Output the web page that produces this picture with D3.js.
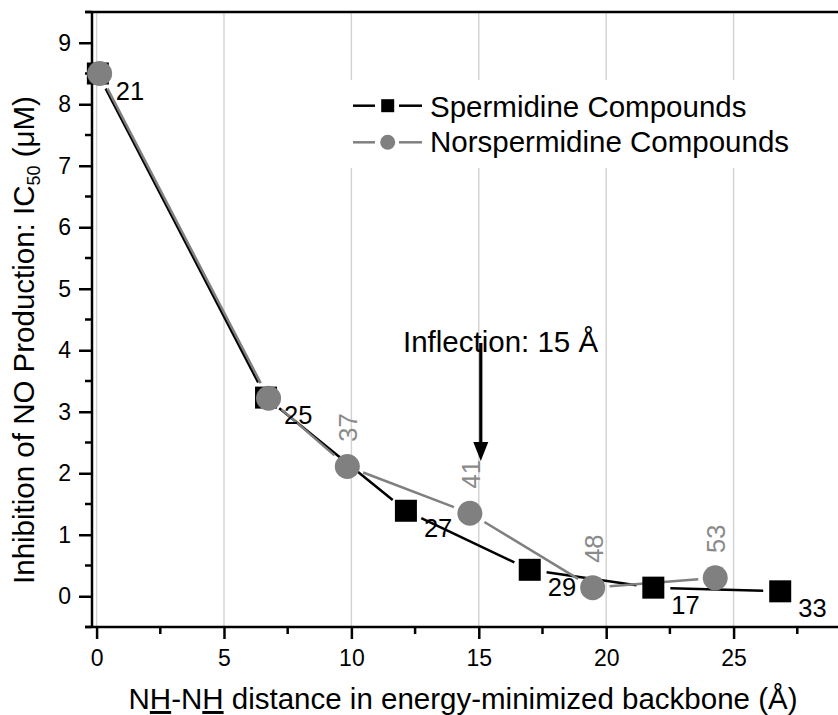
<!DOCTYPE html>
<html>
<head>
<meta charset="utf-8">
<script src="https://cdn.jsdelivr.net/npm/d3@7"></script>
<style>
  html, body { margin: 0; padding: 0; background: #fff; }
  svg { display: block; font-family: "Liberation Sans", Arial, sans-serif; }
</style>
</head>
<body>
<svg id="chart" width="838" height="715"></svg>
<script>
// NH–NH backbone distance (Å) vs. IC50 (µM) for NO production inhibition
const spermidineX = [0.05, 6.65, 12.14, 17.0, 21.85, 26.83];
const spermidineY = [8.5, 3.23, 1.39, 0.43, 0.14, 0.08];
const spermidineLabels = ["21", "25", "27", "29", "17", "33"];

const norspermidineX = [0.12, 6.75, 9.84, 14.65, 19.47, 24.28];
const norspermidineY = [8.5, 3.22, 2.11, 1.35, 0.14, 0.30];
const norspermidineLabels = ["", "", "37", "41", "48", "53"];

const xTicks = [0, 5, 10, 15, 20, 25];
const xMinorTicks = [2.5, 7.5, 12.5, 17.5, 22.5, 27.5];
const yTicks = [0, 1, 2, 3, 4, 5, 6, 7, 8, 9];
const yMinorTicks = [-0.5, 0.5, 1.5, 2.5, 3.5, 4.5, 5.5, 6.5, 7.5, 8.5, 9.5];

const inflectionX = 15;
const seriesNames = ["Spermidine Compounds", "Norspermidine Compounds"];

const svg = d3.select("#chart");
const W = 838, H = 715;
const plotLeft = 92, plotTop = 12, plotBottom = 627;

const x = d3.scaleLinear().domain([-0.18, 29.5]).range([plotLeft, plotLeft + 29.68 * 25.48]);
const y = d3.scaleLinear().domain([-0.5, 9.5]).range([plotBottom, plotTop]);

const BLACK = "#000", GRAY = "#808080", LABEL_GRAY = "#8a8a8a";

// vertical grid lines
svg.append("g").selectAll("line").data(xTicks).join("line")
  .attr("x1", d => x(d)).attr("x2", d => x(d))
  .attr("y1", plotTop).attr("y2", plotBottom)
  .attr("stroke", "#d2d2d2").attr("stroke-width", 1.4);

// legend background masks the grid
svg.append("rect").attr("x", 340).attr("y", 80).attr("width", 470).attr("height", 88).attr("fill", "#fff");

// frame: top edge
svg.append("line").attr("x1", 85).attr("x2", W + 5).attr("y1", plotTop).attr("y2", plotTop)
  .attr("stroke", BLACK).attr("stroke-width", 2.5);

// y axis
const yAxis = svg.append("g").attr("transform", `translate(${plotLeft},0)`)
  .call(d3.axisLeft(y).tickValues(yTicks).tickSize(13).tickPadding(8).tickFormat(d3.format("d")));
yAxis.select(".domain").remove();
yAxis.selectAll(".tick line").attr("stroke-width", 2.5);
yAxis.selectAll(".tick text").attr("font-size", 23).attr("font-family", "Liberation Sans, Arial, sans-serif").attr("fill", BLACK);
svg.append("g").selectAll("line").data(yMinorTicks).join("line")
  .attr("x1", plotLeft - 7).attr("x2", plotLeft).attr("y1", d => y(d)).attr("y2", d => y(d))
  .attr("stroke", BLACK).attr("stroke-width", 2.5);
svg.append("line").attr("x1", plotLeft).attr("x2", plotLeft).attr("y1", plotTop - 1).attr("y2", plotBottom + 1)
  .attr("stroke", BLACK).attr("stroke-width", 2.5);

// x axis
const xAxis = svg.append("g").attr("transform", `translate(0,${plotBottom})`)
  .call(d3.axisBottom(x).tickValues(xTicks).tickSize(12).tickPadding(11).tickFormat(d3.format("d")));
xAxis.select(".domain").remove();
xAxis.selectAll(".tick line").attr("stroke-width", 2.5);
xAxis.selectAll(".tick text").attr("font-size", 23).attr("font-family", "Liberation Sans, Arial, sans-serif").attr("fill", BLACK);
svg.append("g").selectAll("line").data(xMinorTicks).join("line")
  .attr("x1", d => x(d)).attr("x2", d => x(d)).attr("y1", plotBottom).attr("y2", plotBottom + 7)
  .attr("stroke", BLACK).attr("stroke-width", 2.5);
svg.append("line").attr("x1", 85).attr("x2", W + 5).attr("y1", plotBottom).attr("y2", plotBottom)
  .attr("stroke", BLACK).attr("stroke-width", 2.5);

// connecting lines with a gap around each symbol
function gappedSegments(xs, ys, gap) {
  const segs = [];
  for (let i = 0; i < xs.length - 1; i++) {
    const x0 = x(xs[i]), y0 = y(ys[i]), x1 = x(xs[i + 1]), y1 = y(ys[i + 1]);
    const dx = x1 - x0, dy = y1 - y0, len = Math.hypot(dx, dy);
    if (len <= 2 * gap) continue;
    const ux = dx / len, uy = dy / len;
    segs.push([x0 + ux * gap, y0 + uy * gap, x1 - ux * gap, y1 - uy * gap]);
  }
  return segs;
}
svg.append("g").selectAll("line").data(gappedSegments(spermidineX, spermidineY, 17)).join("line")
  .attr("x1", d => d[0]).attr("y1", d => d[1]).attr("x2", d => d[2]).attr("y2", d => d[3])
  .attr("stroke", BLACK).attr("stroke-width", 2.5);
svg.append("g").selectAll("line").data(gappedSegments(norspermidineX, norspermidineY, 17)).join("line")
  .attr("x1", d => d[0]).attr("y1", d => d[1]).attr("x2", d => d[2]).attr("y2", d => d[3])
  .attr("stroke", GRAY).attr("stroke-width", 2.5);

// symbols
const SQ = 22, R = 12.5;
svg.append("g").selectAll("rect").data(d3.range(spermidineX.length)).join("rect")
  .attr("x", i => x(spermidineX[i]) - SQ / 2).attr("y", i => y(spermidineY[i]) - SQ / 2)
  .attr("width", SQ).attr("height", SQ).attr("fill", BLACK);
svg.append("g").selectAll("circle").data(d3.range(norspermidineX.length)).join("circle")
  .attr("cx", i => x(norspermidineX[i])).attr("cy", i => y(norspermidineY[i]))
  .attr("r", R).attr("fill", GRAY);

// point labels
svg.append("g").selectAll("text").data(d3.range(spermidineX.length)).join("text")
  .attr("x", i => x(spermidineX[i]) + 18).attr("y", i => y(spermidineY[i]) + 26)
  .attr("font-size", 25.5).attr("fill", BLACK)
  .text(i => spermidineLabels[i]);
svg.append("g").selectAll("text").data(d3.range(norspermidineX.length).filter(i => norspermidineLabels[i])).join("text")
  .attr("transform", i => `translate(${x(norspermidineX[i]) + 10},${y(norspermidineY[i]) - 39}) rotate(-90)`)
  .attr("text-anchor", "middle").attr("font-size", 25.5).attr("fill", LABEL_GRAY)
  .text(i => norspermidineLabels[i]);

// inflection annotation
svg.append("text").attr("x", 403).attr("y", 352).attr("font-size", 29.5).attr("fill", BLACK)
  .text("Inflection: " + inflectionX + " Å");
const ax = x(inflectionX) + 2;
svg.append("line").attr("x1", ax).attr("x2", ax).attr("y1", 343).attr("y2", 446)
  .attr("stroke", BLACK).attr("stroke-width", 3.2);
svg.append("path").attr("d", `M${ax - 7.5},442 L${ax + 7.5},442 L${ax},461 Z`).attr("fill", BLACK);

// legend
const legend = svg.append("g");
[[BLACK, "square", 105.7, 116.7], [GRAY, "circle", 142.3, 152]].forEach(([c, shape, ly, base], k) => {
  legend.append("line").attr("x1", 353).attr("x2", 375).attr("y1", ly).attr("y2", ly).attr("stroke", c).attr("stroke-width", 2.5);
  legend.append("line").attr("x1", 399).attr("x2", 422).attr("y1", ly).attr("y2", ly).attr("stroke", c).attr("stroke-width", 2.5);
  if (shape === "square") {
    legend.append("rect").attr("x", 387.7 - 6.5).attr("y", ly - 6.5).attr("width", 13).attr("height", 13).attr("fill", c);
  } else {
    legend.append("circle").attr("cx", 387.7).attr("cy", ly).attr("r", 7.5).attr("fill", c);
  }
  legend.append("text").attr("x", 430).attr("y", base).attr("font-size", 29.5).attr("fill", BLACK).text(seriesNames[k]);
});

// x axis title
const xt = svg.append("text").attr("x", 463).attr("y", 709).attr("text-anchor", "middle")
  .attr("font-size", 29.5).attr("fill", BLACK);
xt.append("tspan").text("N");
xt.append("tspan").style("text-decoration", "underline").text("H");
xt.append("tspan").text("-N");
xt.append("tspan").style("text-decoration", "underline").text("H");
xt.append("tspan").text(" distance in energy-minimized backbone (Å)");

// y axis title
const yt = svg.append("text").attr("transform", "translate(34,340) rotate(-90)").attr("text-anchor", "middle")
  .attr("font-size", 29.5).attr("fill", BLACK);
yt.append("tspan").text("Inhibition of NO Production: IC");
yt.append("tspan").attr("font-size", 18).attr("dy", 6).text("50");
yt.append("tspan").attr("dy", -6).text("  (μM)");
</script>
</body>
</html>
